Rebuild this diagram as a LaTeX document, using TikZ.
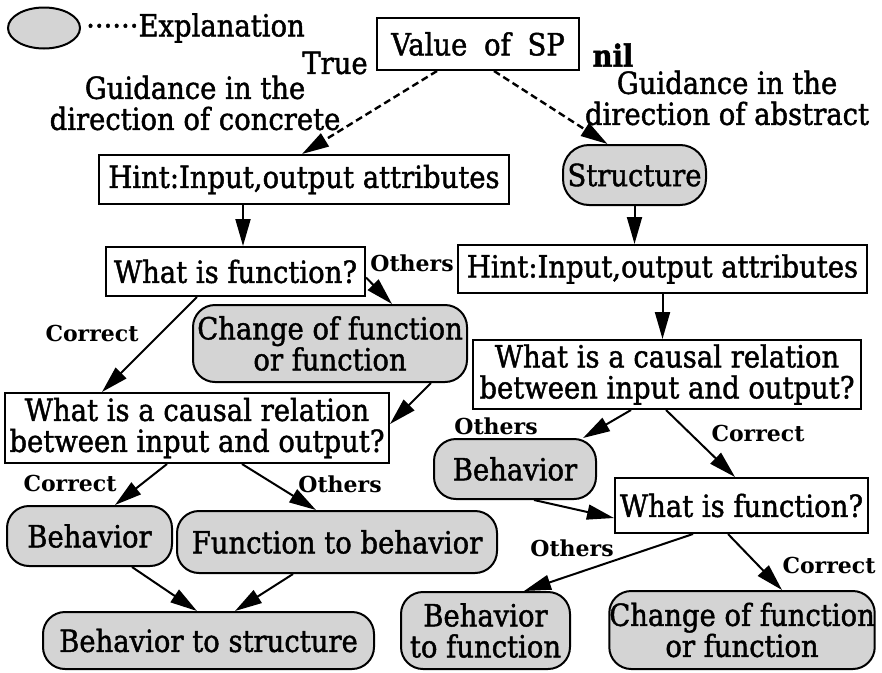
\documentclass[tikz,border=0pt]{standalone}
\usepackage{fontspec}
\setmainfont{DejaVu Serif Condensed}[FakeBold=1.4]
\newfontfamily\labelfamily{DejaVu Serif}
\usetikzlibrary{arrows.meta,shapes.geometric}

\newcommand\bodysize{\fontsize{30.5}{31}\selectfont}
\newcommand\lblsize{\labelfamily\bfseries\fontsize{22}{24}\selectfont}

\tikzset{
  qbox/.style={draw, line width=2pt, fill=white, inner sep=0pt, align=center, font=\bodysize},
  expl/.style={qbox, fill=black!17, rounded corners=22pt},
  lbl/.style={inner sep=0pt, font=\lblsize},
  txt/.style={inner sep=0pt, align=center, font=\bodysize},
  arr/.style={line width=2pt, -{Triangle[length=27pt,width=15pt]}},
  darr/.style={arr, dash pattern=on 7pt off 4pt, line width=2.4pt}
}

\begin{document}
\begin{tikzpicture}[x=1pt,y=-1pt]
\useasboundingbox (0,0) rectangle (882,672);

% legend
\node[ellipse, draw, line width=2pt, fill=black!17, minimum width=72pt, minimum height=41pt, inner sep=0pt] (legshape) at (44,28) {};
\node[txt, anchor=west] (legtext) at (86,28) {\textperiodcentered\textperiodcentered\textperiodcentered\textperiodcentered\textperiodcentered\textperiodcentered Explanation};

% top decision
\node[qbox, minimum width=202pt, minimum height=52pt] (value) at (478,44) {Value\hspace{0.55em}of\hspace{0.55em}SP};
\node[txt] (truelbl) at (335,63) {True};
\node[txt, font=\bodysize\bfseries] (nillbl) at (613,55) {nil};
\node[txt] (guideL) at (195,103) {Guidance in the\\direction of concrete};
\node[txt] (guideR) at (727,98) {Guidance in the\\direction of abstract};

% left branch (concrete)
\node[qbox, minimum width=410pt, minimum height=49pt] (hintL) at (304,179.5) {Hint:Input,output attributes};
\node[qbox, minimum width=259pt, minimum height=49pt] (whatL) at (235.5,271.5) {What is function?};
\node[expl, minimum width=274pt, minimum height=77pt] (changeL) at (330,343.5) {Change of function\\or function};
\node[qbox, minimum width=384pt, minimum height=70pt] (causalL) at (197,428) {What is a causal relation\\between input and output?};
\node[expl, minimum width=165pt, minimum height=60pt] (behL) at (89.5,536) {Behavior};
\node[expl, minimum width=320pt, minimum height=62pt] (funcbeh) at (337,542) {Function to behavior};
\node[expl, minimum width=331pt, minimum height=57pt] (behstruct) at (208.5,640.5) {Behavior to structure};

% right branch (abstract)
\node[expl, minimum width=143pt, minimum height=60pt, rounded corners=26pt] (struct) at (634.5,175) {Structure};
\node[qbox, minimum width=409pt, minimum height=48pt] (hintR) at (662.5,269) {Hint:Input,output attributes};
\node[qbox, minimum width=388pt, minimum height=69pt] (causalR) at (667,374.5) {What is a causal relation\\between input and output?};
\node[expl, minimum width=162pt, minimum height=60pt] (behR) at (515,469) {Behavior};
\node[qbox, minimum width=253pt, minimum height=55pt] (whatR) at (741.5,505.5) {What is function?};
\node[expl, minimum width=169pt, minimum height=77pt] (behfunc) at (485.5,630.5) {Behavior\\to function};
\node[expl, minimum width=264pt, minimum height=78pt] (changeR) at (742,630) {Change of function\\or function};

% branch labels
\node[lbl] (othA) at (412,263) {Others};
\node[lbl] (corA) at (92,333) {Correct};
\node[lbl] (othB) at (496,426) {Others};
\node[lbl] (corB) at (758,433) {Correct};
\node[lbl] (corC) at (70,483) {Correct};
\node[lbl] (othC) at (340,484) {Others};
\node[lbl] (othD) at (572,548) {Others};
\node[lbl] (corD) at (829,565) {Correct};

% dashed guidance arrows
\draw[darr] ([xshift=-41pt]value.south) -- ([xshift=-2pt]hintL.north);
\draw[darr] ([xshift=16pt]value.south) -- ([xshift=-27pt]struct.north);

% left branch connectors
\draw[arr] ([xshift=-61pt]hintL.south) -- ([xshift=-61pt]hintL.south |- whatL.north);
\draw[arr] ([xshift=-38.5pt]whatL.south) -- ([xshift=-95pt]causalL.north);
\draw[arr] ([yshift=-6pt]whatL.east) -- ([xshift=62pt]changeL.north);
\draw[arr] ([xshift=101pt]changeL.south) -- ([yshift=4pt]causalL.east);
\draw[arr] ([xshift=-30pt]causalL.south) -- ([xshift=25.5pt]behL.north);
\draw[arr] ([xshift=45pt]causalL.south) -- ([xshift=-21pt]funcbeh.north);
\draw[arr] ([xshift=42.5pt]behL.south) -- ([xshift=-11.5pt]behstruct.north);
\draw[arr] ([xshift=-44pt]funcbeh.south) -- ([xshift=26.5pt]behstruct.north);

% right branch connectors
\draw[arr] (struct.south) -- (struct.south |- hintR.north);
\draw[arr] (hintR.south) -- (hintR.south |- causalR.north);
\draw[arr] ([xshift=-36pt]causalR.south) -- ([xshift=68pt]behR.north);
\draw[arr] ([xshift=-1pt]causalR.south) -- ([xshift=-6.5pt]whatR.north);
\draw[arr] ([xshift=19pt]behR.south) -- ([yshift=-12.5pt]whatR.west);
\draw[arr] ([xshift=-48.5pt]whatR.south) -- ([xshift=38.5pt]behfunc.north);
\draw[arr] ([xshift=-13.5pt]whatR.south) -- ([xshift=40pt]changeR.north);
\end{tikzpicture}
\end{document}
